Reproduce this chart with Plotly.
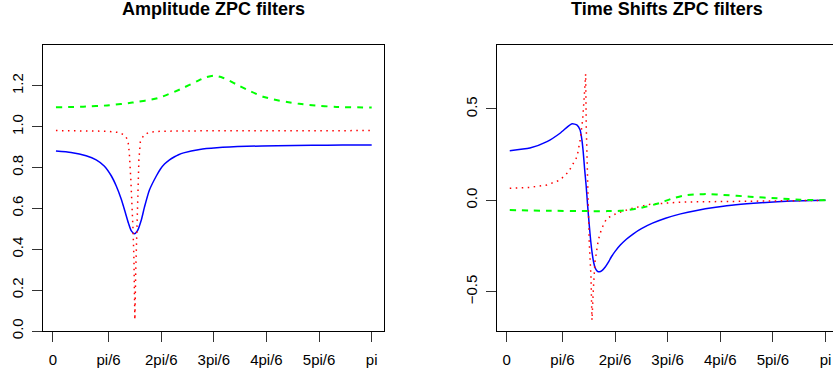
import math
import plotly.graph_objects as go

PI = math.pi

# ---------------- data ----------------
# Amplitude panel
amp_blue_x = [0, 0.15, 0.3, 0.4, 0.48, 0.55, 0.60, 0.65, 0.69, 0.72, 0.75, 0.782, 0.81, 0.85,
              0.88, 0.93, 1.0, 1.04, 1.08, 1.13, 1.18, 1.22, 1.27, 1.43, 1.6, 1.9, 2.2, 2.55,
              2.85, PI]
amp_blue_y = [0.881, 0.874, 0.858, 0.838, 0.808, 0.760, 0.710, 0.645, 0.580, 0.530, 0.490, 0.476,
              0.490, 0.545, 0.605, 0.690, 0.760, 0.793, 0.817, 0.838, 0.853, 0.863, 0.872, 0.889,
              0.897, 0.904, 0.907, 0.909, 0.910, 0.911]

amp_red_x = [0, 0.3, 0.5, 0.62, 0.68, 0.716, 0.73, 0.745, 0.757, 0.767, 0.776, 0.785, 0.794, 0.80,
             0.806, 0.815, 0.825, 0.84, 0.875, 0.93, 1.05, 1.5, 2.0, 2.5, PI]
amp_red_y = [0.981, 0.980, 0.978, 0.972, 0.960, 0.935, 0.870, 0.74, 0.625, 0.495, 0.35, 0.055, 0.30,
             0.40, 0.544, 0.707, 0.837, 0.927, 0.960, 0.973, 0.978, 0.980, 0.981, 0.981, 0.981]

amp_green_x = [0, 0.27, 0.53, 0.76, 1.01, 1.24, 1.40, 1.48, 1.571, 1.66, 1.71, 1.82, 1.94, 2.06,
               2.17, 2.30, 2.42, 2.55, 2.79, PI]
amp_green_y = [1.095, 1.098, 1.105, 1.118, 1.139, 1.184, 1.222, 1.240, 1.250, 1.240, 1.229, 1.201,
               1.172, 1.147, 1.133, 1.121, 1.112, 1.105, 1.097, 1.094]

# Time-shift panel
ts_blue_x = [0, 0.2, 0.37, 0.5, 0.58, 0.62, 0.67, 0.70, 0.718, 0.73, 0.745, 0.76, 0.775, 0.79,
             0.805, 0.82, 0.835, 0.85, 0.87, 0.891, 0.92, 0.95, 0.98, 1.01, 1.05, 1.10, 1.16,
             1.23, 1.31, 1.42, 1.55, 1.70, 1.86, 2.05, 2.25, 2.5, 2.8, PI]
ts_blue_y = [0.272, 0.286, 0.321, 0.367, 0.405, 0.419, 0.412, 0.385, 0.33, 0.27, 0.17, 0.08, -0.03,
             -0.13, -0.22, -0.29, -0.34, -0.37, -0.387, -0.391, -0.383, -0.365, -0.340, -0.310,
             -0.278, -0.245, -0.213, -0.183, -0.155, -0.125, -0.098, -0.074, -0.055, -0.038,
             -0.024, -0.013, -0.004, 0.0]

ts_red_x = [0, 0.2, 0.37, 0.5, 0.586, 0.67, 0.70, 0.725, 0.741, 0.755, 0.761, 0.768, 0.778, 0.791,
            0.808, 0.818, 0.831, 0.848, 0.881, 0.914, 0.964, 1.03, 1.064, 1.213, 1.395, 1.56,
            1.694, 1.89, 2.22, 2.56, 2.89, PI]
ts_red_y = [0.066, 0.071, 0.084, 0.111, 0.157, 0.239, 0.330, 0.44, 0.567, 0.691, 0.403, 0.221,
            -0.053, -0.235, -0.418, -0.655, -0.49, -0.335, -0.217, -0.155, -0.099, -0.078, -0.071,
            -0.044, -0.022, -0.015, -0.010, -0.008, -0.005, -0.003, -0.001, 0.0]

ts_green_x = [0, 0.37, 0.77, 0.97, 1.10, 1.26, 1.40, 1.50, 1.61, 1.73, 1.86, 1.99, 2.12, 2.39,
              2.66, 2.89, PI]
ts_green_y = [-0.053, -0.057, -0.059, -0.059, -0.057, -0.046, -0.029, -0.013, 0.009, 0.026, 0.033,
              0.034, 0.030, 0.020, 0.011, 0.003, 0.0]

x_tick_vals = [-0.031, PI / 6, 2 * PI / 6, 3 * PI / 6, 4 * PI / 6, 5 * PI / 6, PI]
x_tick_text = ["0", "pi/6", "2pi/6", "3pi/6", "4pi/6", "5pi/6", "pi"]
amp_tick_vals = [0.0, 0.2, 0.4, 0.6, 0.8, 1.0, 1.2]
amp_tick_text = ["0.0", "0.2", "0.4", "0.6", "0.8", "1.0", "1.2"]
ts_tick_vals = [-0.5, 0.0, 0.5]
ts_tick_text = ["\u22120.5", "0.0", "0.5"]
titles = ["Amplitude ZPC filters", "Time Shifts ZPC filters"]

# ---------------- figure ----------------
W, H = 833, 374
FONT = "Liberation Sans, Arial, Helvetica, sans-serif"
BLUE, RED, GREEN = "#0000FF", "#FF0000", "#00FF00"

fig = go.Figure()

def add_lines(xs, ys, color, dash, width, xa, ya, shape):
    line = dict(color=color, dash=dash, width=width, shape=shape)
    if shape == "spline":
        line["smoothing"] = 0.6
    fig.add_trace(go.Scatter(x=xs, y=ys, mode="lines", xaxis=xa, yaxis=ya, line=line,
                             showlegend=False, hoverinfo="skip"))

add_lines(amp_blue_x, amp_blue_y, BLUE, "solid", 1.5, "x", "y", "spline")
add_lines(amp_red_x, amp_red_y, RED, "1.5px,4.5px", 1.5, "x", "y", "linear")
add_lines(amp_green_x, amp_green_y, GREEN, "6px,6px", 2, "x", "y", "spline")

add_lines(ts_blue_x, ts_blue_y, BLUE, "solid", 1.5, "x2", "y2", "spline")
add_lines(ts_red_x, ts_red_y, RED, "1.5px,4.5px", 1.5, "x2", "y2", "linear")
add_lines(ts_green_x, ts_green_y, GREEN, "6px,6px", 2, "x2", "y2", "spline")

ydom = [1 - 331 / H, 1 - 45 / H]
axis_common = dict(showgrid=False, zeroline=False, showline=True, linecolor="black", linewidth=1,
                   ticks="outside", ticklen=10, tickcolor="#333333", tickwidth=1, automargin=False,
                   tickfont=dict(family=FONT, size=15, color="black"), fixedrange=True)

fig.update_layout(
    width=W, height=H, margin=dict(l=0, r=0, t=0, b=0, pad=0, autoexpand=False),
    paper_bgcolor="white", plot_bgcolor="white",
    xaxis=dict(domain=[43.3 / W, 384.3 / W], range=[-0.126, 3.267], anchor="y", mirror=True,
               tickmode="array", tickvals=x_tick_vals, ticktext=x_tick_text,
               ticklabelstandoff=5, **axis_common),
    yaxis=dict(domain=ydom, range=[0, 1.4], anchor="x", mirror=True, tickangle=-90,
               tickmode="array", tickvals=amp_tick_vals, ticktext=amp_tick_text,
               ticklabelstandoff=3, **axis_common),
    xaxis2=dict(domain=[497.1 / W, 1.0], range=[-0.126, 3.216], anchor="y2", mirror=True,
                tickmode="array", tickvals=x_tick_vals, ticktext=x_tick_text,
                ticklabelstandoff=5, **axis_common),
    yaxis2=dict(domain=ydom, range=[-0.715, 0.85], anchor="x2", mirror=False, tickangle=-90,
                tickmode="array", tickvals=ts_tick_vals, ticktext=ts_tick_text,
                ticklabelstandoff=3, **axis_common),
)

for cx, t in zip([213.8 / W, 667.2 / W], titles):
    fig.add_annotation(text="<b>" + t + "</b>", x=cx, y=1 - 9 / H, xref="paper", yref="paper",
                       xanchor="center", yanchor="middle", showarrow=False,
                       font=dict(family=FONT, size=18, color="black"))

fig.write_html("out.html")
